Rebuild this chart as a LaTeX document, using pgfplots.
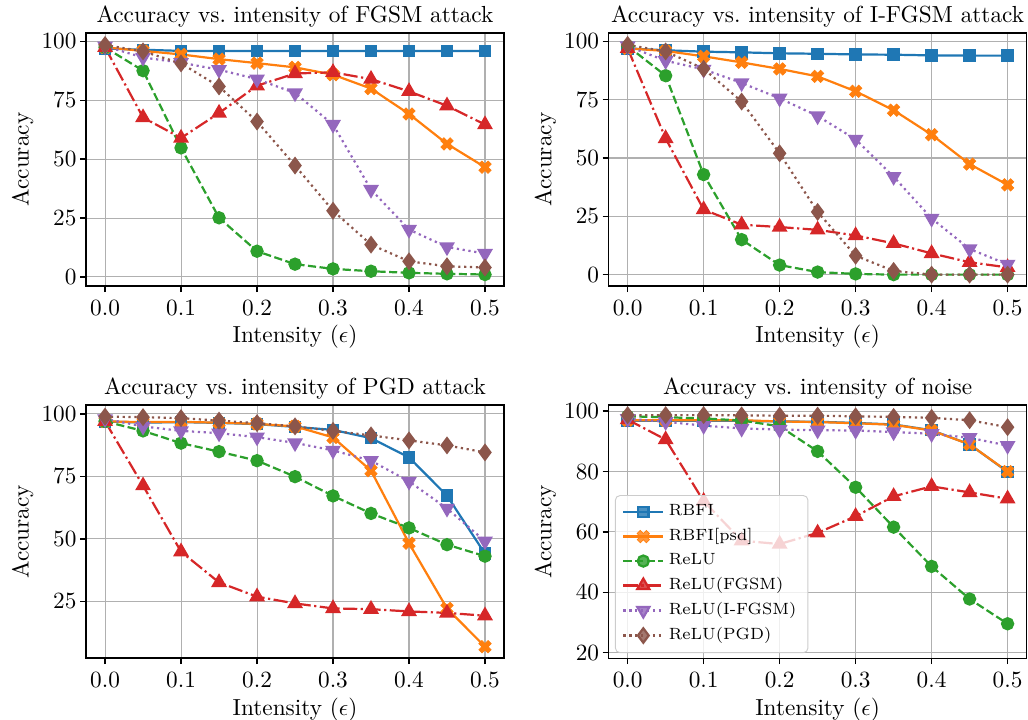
\documentclass[border=0pt]{standalone}
\usepackage{pgfplots}
\pgfplotsset{compat=1.18}
\usepackage{pgfplotstable}
\usepgfplotslibrary{groupplots}
\definecolor{c0}{HTML}{1F77B4}
\definecolor{c1}{HTML}{FF7F0E}
\definecolor{c2}{HTML}{2CA02C}
\definecolor{c3}{HTML}{D62728}
\definecolor{c4}{HTML}{9467BD}
\definecolor{c5}{HTML}{8C564B}
\definecolor{gridgray}{HTML}{B0B0B0}
\definecolor{leggray}{HTML}{CCCCCC}

\pgfdeclareplotmark{Xf}{%
  \pgftransformrotate{45}%
  \pgfpathmoveto{\pgfpoint{0.34\pgfplotmarksize}{\pgfplotmarksize}}%
  \pgfpathlineto{\pgfpoint{0.34\pgfplotmarksize}{0.34\pgfplotmarksize}}%
  \pgfpathlineto{\pgfpoint{\pgfplotmarksize}{0.34\pgfplotmarksize}}%
  \pgfpathlineto{\pgfpoint{\pgfplotmarksize}{-0.34\pgfplotmarksize}}%
  \pgfpathlineto{\pgfpoint{0.34\pgfplotmarksize}{-0.34\pgfplotmarksize}}%
  \pgfpathlineto{\pgfpoint{0.34\pgfplotmarksize}{-\pgfplotmarksize}}%
  \pgfpathlineto{\pgfpoint{-0.34\pgfplotmarksize}{-\pgfplotmarksize}}%
  \pgfpathlineto{\pgfpoint{-0.34\pgfplotmarksize}{-0.34\pgfplotmarksize}}%
  \pgfpathlineto{\pgfpoint{-\pgfplotmarksize}{-0.34\pgfplotmarksize}}%
  \pgfpathlineto{\pgfpoint{-\pgfplotmarksize}{0.34\pgfplotmarksize}}%
  \pgfpathlineto{\pgfpoint{-0.34\pgfplotmarksize}{0.34\pgfplotmarksize}}%
  \pgfpathlineto{\pgfpoint{-0.34\pgfplotmarksize}{\pgfplotmarksize}}%
  \pgfpathclose
  \pgfusepathqfillstroke
}

\pgfplotsset{
  s0/.style={c0, solid, mark=square*, mark size=2.2pt, mark options={solid, fill=c0}},
  s1/.style={c1, solid, mark=Xf, mark size=2.8pt, mark options={solid, fill=c1, line width=0.3pt}},
  s2/.style={c2, dash pattern=on 3.5pt off 1.5pt, mark=*, mark size=2.4pt, mark options={solid, fill=c2}},
  s3/.style={c3, dash pattern=on 6.1pt off 1.5pt on 0.95pt off 1.5pt, mark=triangle*, mark size=3pt, mark options={solid, fill=c3}},
  s4/.style={c4, dash pattern=on 0.95pt off 1.57pt, mark=triangle*, mark size=3pt, mark options={solid, fill=c4, rotate=180}},
  s5/.style={c5, dash pattern=on 0.95pt off 1.57pt, mark=diamond*, mark size=3.1pt, mark options={solid, fill=c5}},
}

% FGSM attack
\pgfplotstableread{
eps  rbfi psd  relu fgsm ifgsm pgd
0.00 97.0 97.5 97.5 97.5 98.0 98.5
0.05 96.5 96.0 87.6 67.7 93.2 95.8
0.10 96.0 94.5 54.8 59.0 91.0 90.7
0.15 96.0 92.5 25.1 69.6 88.0 80.9
0.20 96.0 90.8 10.9 81.2 84.0 66.0
0.25 96.0 89.0 5.4  86.4 78.1 47.3
0.30 96.0 85.9 3.4  86.9 64.7 28.1
0.35 96.0 80.0 2.4  84.0 37.1 13.7
0.40 96.0 69.2 1.7  78.8 20.1 6.6
0.45 96.0 56.5 1.3  72.7 12.7 4.5
0.50 96.0 46.6 1.0  64.7 9.9  4.0
}\tA
% I-FGSM attack
\pgfplotstableread{
eps  rbfi psd  relu fgsm ifgsm pgd
0.00 97.0 97.0 98.0 97.0 98.0 98.5
0.05 96.2 95.9 85.3 58.4 91.7 95.7
0.10 95.6 93.6 42.9 27.9 88.0 88.3
0.15 95.3 91.0 15.0 21.4 82.2 74.2
0.20 94.9 88.2 4.1  20.4 75.6 52.0
0.25 94.7 85.0 1.1  19.2 68.0 26.9
0.30 94.4 78.6 0.3  16.8 58.0 8.1
0.35 94.3 70.5 0.0  13.4 42.0 1.6
0.40 94.0 60.0 0.0  9.1  24.1 0.0
0.45 93.9 47.4 0.0  5.3  11.0 0.0
0.50 93.9 38.5 0.0  3.1  4.4  0.0
}\tB
% PGD attack
\pgfplotstableread{
eps  rbfi psd  relu fgsm ifgsm pgd
0.00 97.0 97.0 97.0 97.0 98.0 98.9
0.05 96.5 96.7 93.2 71.3 95.0 98.7
0.10 96.7 96.8 88.3 44.9 93.2 98.3
0.15 96.4 96.5 84.9 32.6 92.3 97.3
0.20 95.9 96.0 81.3 26.9 90.7 96.3
0.25 94.8 95.0 74.9 24.2 88.4 95.0
0.30 93.6 90.6 67.2 22.2 85.4 93.2
0.35 90.3 77.3 60.2 21.9 81.3 91.4
0.40 82.6 48.3 54.4 21.0 73.0 89.4
0.45 67.3 22.2 47.7 20.4 62.2 87.4
0.50 44.1 6.9  43.1 19.3 49.1 84.6
}\tC
% noise
\pgfplotstableread{
eps  rbfi psd  relu fgsm ifgsm pgd
0.00 96.8 97.0 98.3 97.2 97.5 98.7
0.05 96.8 97.0 98.0 90.6 96.5 98.7
0.10 96.8 97.0 97.6 70.2 95.2 98.7
0.15 96.8 97.0 96.9 57.1 94.3 98.6
0.20 96.6 96.6 95.0 56.0 93.9 98.5
0.25 96.5 96.4 86.7 59.7 93.7 98.5
0.30 96.1 96.0 74.8 65.2 93.6 98.3
0.35 95.6 95.5 61.6 71.8 93.1 98.1
0.40 93.7 93.6 48.6 75.1 92.5 97.8
0.45 89.0 89.0 37.8 73.1 91.2 97.0
0.50 79.9 80.0 29.6 71.0 88.6 94.7
}\tD

\begin{document}
\begin{tikzpicture}
\begin{groupplot}[
  group style={group size=2 by 2, horizontal sep=45.0pt, vertical sep=51.2pt},
  scale only axis, width=179.7pt, height=108.8pt,
  xmin=-0.025, xmax=0.525,
  xtick={0,0.1,0.2,0.3,0.4,0.5},
  xticklabels={$0.0$,$0.1$,$0.2$,$0.3$,$0.4$,$0.5$},
  grid=major, grid style={draw=gridgray, line width=0.45pt},
  axis line style={line width=0.6pt},
  tick style={black, line width=0.6pt},
  tick align=outside, major tick length=2.6pt,
  xtick pos=bottom, ytick pos=left,
  every axis title shift=0pt,
  title style={yshift=-1pt},
  yticklabel shift=-2pt,
  ylabel shift=-3.4pt,
  xlabel shift=-2.5pt,
  xlabel={Intensity ($\epsilon$)}, ylabel={Accuracy},
  every axis plot/.append style={line width=0.95pt},
  legend style={font=\scriptsize, fill=white, fill opacity=0.8, draw opacity=1, text opacity=1,
    draw=leggray, rounded corners=2pt, at={(0.015,0.02)}, anchor=south west},
  legend cell align=left,
]
\nextgroupplot[title={Accuracy vs.\ intensity of FGSM attack}, ymin=-3.9, ymax=103.6, ytick={0,25,50,75,100}]
\addplot[s0] table[x=eps,y=rbfi]{\tA};
\addplot[s1] table[x=eps,y=psd]{\tA};
\addplot[s2] table[x=eps,y=relu]{\tA};
\addplot[s3] table[x=eps,y=fgsm]{\tA};
\addplot[s4] table[x=eps,y=ifgsm]{\tA};
\addplot[s5] table[x=eps,y=pgd]{\tA};

\nextgroupplot[title={Accuracy vs.\ intensity of I-FGSM attack}, ymin=-4.9, ymax=103.6, ytick={0,25,50,75,100}]
\addplot[s0] table[x=eps,y=rbfi]{\tB};
\addplot[s1] table[x=eps,y=psd]{\tB};
\addplot[s2] table[x=eps,y=relu]{\tB};
\addplot[s3] table[x=eps,y=fgsm]{\tB};
\addplot[s4] table[x=eps,y=ifgsm]{\tB};
\addplot[s5] table[x=eps,y=pgd]{\tB};

\nextgroupplot[title={Accuracy vs.\ intensity of PGD attack}, ymin=2.3, ymax=103.5, ytick={25,50,75,100}]
\addplot[s0] table[x=eps,y=rbfi]{\tC};
\addplot[s1] table[x=eps,y=psd]{\tC};
\addplot[s2] table[x=eps,y=relu]{\tC};
\addplot[s3] table[x=eps,y=fgsm]{\tC};
\addplot[s4] table[x=eps,y=ifgsm]{\tC};
\addplot[s5] table[x=eps,y=pgd]{\tC};

\nextgroupplot[title={Accuracy vs.\ intensity of noise}, ymin=18.2, ymax=102, ytick={20,40,60,80,100}]
\addplot[s0] table[x=eps,y=rbfi]{\tD};
\addlegendentry{RBFI}
\addplot[s1] table[x=eps,y=psd]{\tD};
\addlegendentry{RBFI[psd]}
\addplot[s2] table[x=eps,y=relu]{\tD};
\addlegendentry{ReLU}
\addplot[s3] table[x=eps,y=fgsm]{\tD};
\addlegendentry{ReLU(FGSM)}
\addplot[s4] table[x=eps,y=ifgsm]{\tD};
\addlegendentry{ReLU(I-FGSM)}
\addplot[s5] table[x=eps,y=pgd]{\tD};
\addlegendentry{ReLU(PGD)}
\end{groupplot}
\pgfresetboundingbox
\path[use as bounding box] ([shift={(-37.0pt,14.2pt)}]group c1r1.north west) rectangle ++(442.0pt,-309.2pt);
\end{tikzpicture}
\end{document}
